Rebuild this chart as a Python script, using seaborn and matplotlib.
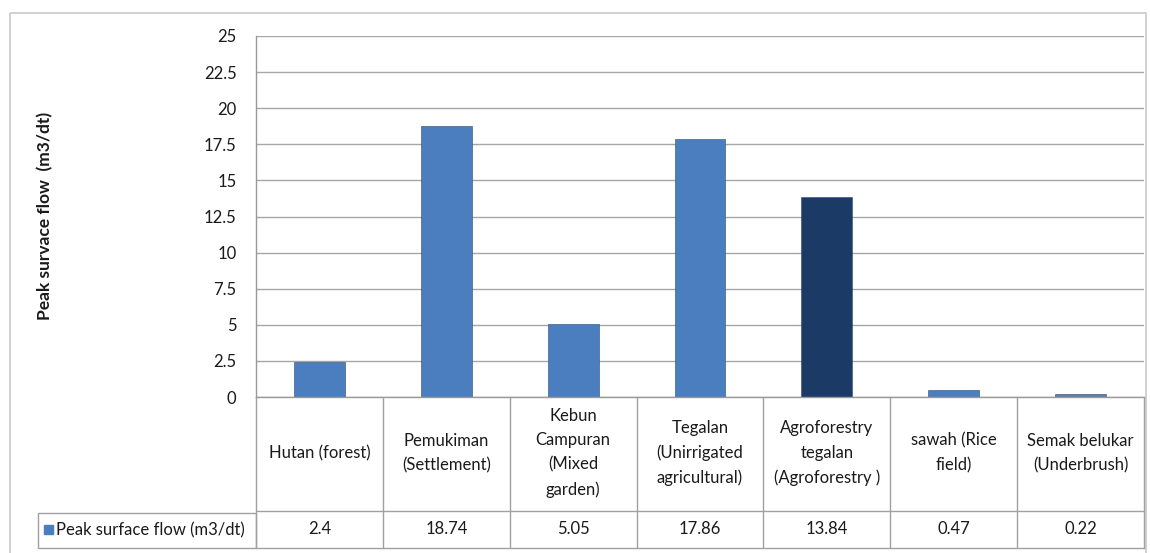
import matplotlib
matplotlib.use("Agg")
import matplotlib.pyplot as plt
import seaborn as sns
import pandas as pd

# data
land_use = ["Hutan (forest)", "Pemukiman\n(Settlement)", "Kebun\nCampuran\n(Mixed\ngarden)",
            "Tegalan\n(Unirrigated\nagricultural)", "Agroforestry\ntegalan\n(Agroforestry )",
            "sawah (Rice\nfield)", "Semak belukar\n(Underbrush)"]
peak_flow = [2.4, 18.74, 5.05, 17.86, 13.84, 0.47, 0.22]
value_text = ["2.4", "18.74", "5.05", "17.86", "13.84", "0.47", "0.22"]
y_ticks = [0, 2.5, 5, 7.5, 10, 12.5, 15, 17.5, 20, 22.5, 25]
y_tick_labels = ["0", "2.5", "5", "7.5", "10", "12.5", "15", "17.5", "20", "22.5", "25"]
series_name = "Peak surface flow (m3/dt)"
y_label = "Peak survace flow  (m3/dt)"

BLUE = "#4A7EBF"
DARK = "#1B3A66"
bar_colors = [BLUE, BLUE, BLUE, BLUE, DARK, BLUE, "#5F7DA6"]

sns.set_style("white")
plt.rcParams["font.family"] = ["Lato", "DejaVu Sans"]

W, H = 1150, 553
fig = plt.figure(figsize=(W / 100, H / 100), dpi=100)

# outer frame / legend cell in pixel space
frame = fig.add_axes([0, 0, 1, 1])
frame.set_xlim(0, W)
frame.set_ylim(H, 0)
frame.axis("off")
frame.add_patch(plt.Rectangle((10, 13), 1136, 545, fill=False, ec="#C8C8C8", lw=1.2))

# bar plot area
left, right = 256, 1144
top, zero = 36, 397
ax = fig.add_axes([left / W, 1 - zero / H, (right - left) / W, (zero - top) / H])
df = pd.DataFrame({"land_use": land_use, "flow": peak_flow})
sns.barplot(data=df, x="land_use", y="flow", hue="land_use", palette=bar_colors,
            legend=False, width=0.4, ax=ax, saturation=1, edgecolor="#2A4A77", linewidth=0.4)
ax.set_xlim(-0.5, len(land_use) - 0.5)
ax.set_ylim(0, 25)
ax.set_yticks(y_ticks)
ax.set_yticklabels(y_tick_labels, fontsize=12, color="#1A1A1A")
ax.tick_params(axis="y", length=0, pad=14)
ax.set_xticks([])
ax.set_xlabel("")
ax.set_ylabel("")
ax.yaxis.grid(True, color="#A6A6A6", lw=1)
ax.set_axisbelow(True)
for s in ["top", "right"]:
    ax.spines[s].set_visible(False)
for s in ["left", "bottom"]:
    ax.spines[s].set_color("#999999")
    ax.spines[s].set_linewidth(1)

fig.text(45 / W, 1 - 216 / H, y_label, rotation=90, ha="center", va="center",
         fontsize=12.5, fontweight="bold", color="#1A1A1A")

# data table below the plot
tab = fig.add_axes([left / W, 1 - 548 / H, (right - left) / W, (548 - zero) / H])
tab.set_xlim(-0.5, len(land_use) - 0.5)
tab.set_ylim(548, zero)
tab.axis("off")
lc = "#A0A0A0"
for i in range(len(land_use) + 1):
    tab.plot([i - 0.5, i - 0.5], [zero, 548], color=lc, lw=1, clip_on=False)
tab.plot([-0.5, len(land_use) - 0.5], [511, 511], color=lc, lw=1, clip_on=False)
tab.plot([-0.5, len(land_use) - 0.5], [548, 548], color=lc, lw=1, clip_on=False)
for i, (lab, val) in enumerate(zip(land_use, value_text)):
    tab.text(i, 453, lab, ha="center", va="center", fontsize=12, color="#1A1A1A",
             linespacing=1.65)
    tab.text(i, 529, val, ha="center", va="center", fontsize=12, color="#1A1A1A")

# legend cell at the left of the value row
frame.add_patch(plt.Rectangle((38, 513), left - 38, 35, fill=False, ec=lc, lw=1))
frame.add_patch(plt.Rectangle((44, 525), 9, 9, color=BLUE))
frame.text(56, 530, series_name, ha="left", va="center", fontsize=12, color="#1A1A1A")

fig.savefig("out.png", dpi=100)
